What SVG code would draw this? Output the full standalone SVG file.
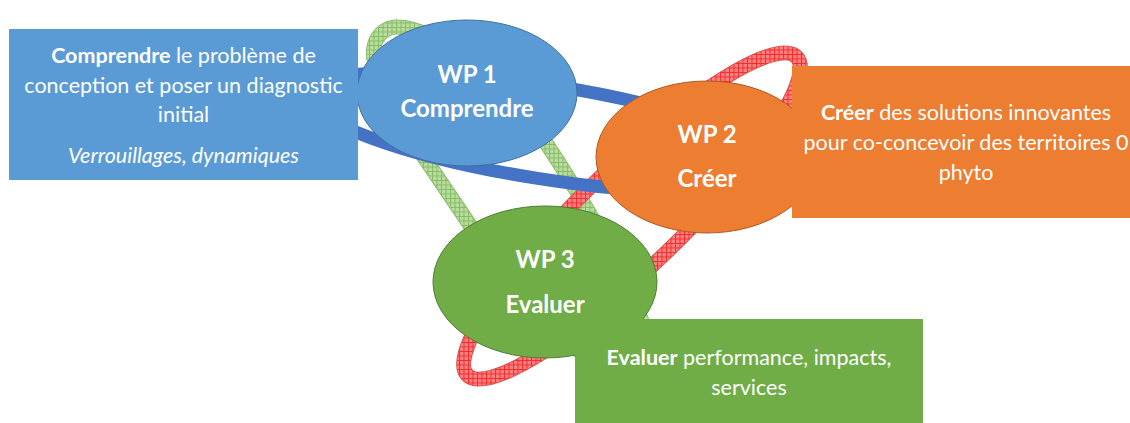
<svg xmlns="http://www.w3.org/2000/svg" xmlns:xlink="http://www.w3.org/1999/xlink" width="1130" height="423" viewBox="0 0 1130 423">
<style>
.t{font-family:Lato,"Open Sans","Liberation Sans",sans-serif;fill:#FFFFFF;text-anchor:middle}
.box{font-size:21.5px}
.wp{font-size:24px;font-weight:bold}
.b{font-weight:bold}
.i{font-style:italic}
.ringG{fill:none;stroke:url(#hatchG);stroke-width:13}
.ringGo{fill:none;stroke:#8CBF6A;stroke-width:15}
.ringR{fill:none;stroke:url(#hatchR);stroke-width:13}
.ringRo{fill:none;stroke:#D9534F;stroke-width:15}
.ringB{fill:none;stroke:#4472C4;stroke-width:13}
</style>
<defs>
<pattern id="hatchG" width="4.5" height="4.5" patternUnits="userSpaceOnUse">
<rect width="4.5" height="4.5" fill="#B9DCA0"/>
<path d="M0 0.5H4.5M0.5 0V4.5" stroke="#86BA63" stroke-width="1" fill="none"/>
</pattern>
<pattern id="hatchR" width="4.5" height="4.5" patternUnits="userSpaceOnUse">
<rect width="4.5" height="4.5" fill="#FF8A8A" fill-opacity="0.85"/>
<path d="M0 0.5H4.5M0.5 0V4.5" stroke="#F52A2A" stroke-width="1" fill="none"/>
</pattern>
<path id="pG" d="M395,27 C440,25 505,90 546,143 C575,186 625,270 645,330 C655,360 650,385 620,380 C600,375 585,360 575,345 C555,318 500,270 472,228 L428,163 C405,130 378,90 374,60 C371,42 380,29 395,27 Z"/>
<path id="pR" d="M796.73,56.92 A229 50 -44 0 1 467.27,375.08 A229 50 -44 0 1 796.73,56.92 Z"/>
<path id="pB" d="M782.05,169.54 A240 47 9 0 1 307.95,94.46 A240 47 9 0 1 782.05,169.54 Z"/>
</defs>
<rect width="1130" height="423" fill="#FFFFFF"/>
<g id="connectors">
<g id="ring-green"><use xlink:href="#pG" href="#pG" class="ringGo"/><use xlink:href="#pG" href="#pG" class="ringG"/></g>
<g id="ring-red"><use xlink:href="#pR" href="#pR" class="ringRo"/><use xlink:href="#pR" href="#pR" class="ringR"/></g>
<g id="ring-blue"><use xlink:href="#pB" href="#pB" class="ringB"/></g>
</g>
<g id="wp1">
<ellipse cx="467" cy="93" rx="110" ry="73" fill="#5B9BD5" stroke="#41719C" stroke-width="1"/>
<text class="t wp" x="467" y="83">WP 1</text>
<text class="t wp" x="467" y="117">Comprendre</text>
</g>
<g id="wp2">
<ellipse cx="707" cy="157" rx="111" ry="76" fill="#ED7D31" stroke="#AE5A21" stroke-width="1"/>
<text class="t wp" x="707" y="143">WP 2</text>
<text class="t wp" x="707" y="187">Créer</text>
</g>
<g id="wp3">
<ellipse cx="545" cy="282" rx="112" ry="76" fill="#70AD47" stroke="#507E32" stroke-width="1"/>
<text class="t wp" x="545" y="268">WP 3</text>
<text class="t wp" x="545" y="313">Evaluer</text>
</g>
<g id="box-comprendre">
<rect x="9" y="29" width="349" height="151" fill="#5B9BD5"/>
<text class="t box" x="183.5" y="63"><tspan class="b">Comprendre</tspan> le problème de</text>
<text class="t box" x="183.5" y="92.5">conception et poser un diagnostic</text>
<text class="t box" x="183.5" y="122">initial</text>
<text class="t box i" x="183.5" y="162.5">Verrouillages, dynamiques</text>
</g>
<g id="box-creer">
<rect x="792" y="66" width="345" height="152" fill="#ED7D31"/>
<text class="t box" x="966" y="120"><tspan class="b">Créer</tspan> des solutions innovantes</text>
<text class="t box" x="966" y="150">pour co-concevoir des territoires 0</text>
<text class="t box" x="966" y="179.5">phyto</text>
</g>
<g id="box-evaluer">
<rect x="575" y="319" width="348" height="106" fill="#70AD47"/>
<text class="t box" x="749" y="365"><tspan class="b">Evaluer</tspan> performance, impacts,</text>
<text class="t box" x="749" y="395">services</text>
</g>
</svg>
